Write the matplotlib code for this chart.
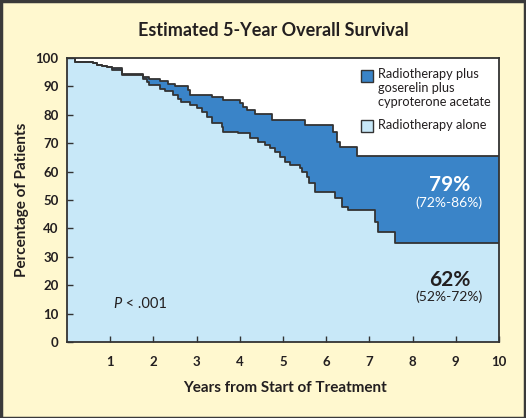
import matplotlib
matplotlib.use("Agg")
import matplotlib.pyplot as plt
from matplotlib.patches import Rectangle

# Combined therapy (radiotherapy + goserelin + cyproterone acetate) - step curve
combo_t = [0, 0.19, 0.6, 0.7, 0.8, 0.93, 1.04, 1.27, 1.76, 1.9, 2.15, 2.34, 2.5, 2.8, 2.85,
           3.36, 3.6, 4.0, 4.08, 4.17, 4.35, 4.75, 5.5, 6.16, 6.25, 6.32, 6.71, 10]
combo_s = [100, 98.6, 98.2, 97.6, 97.2, 96.8, 96.5, 94.4, 93.3, 92.6, 91.9, 90.8, 90.1, 88.7, 87.0,
           86.3, 85.2, 84.2, 82.7, 81.7, 80.3, 78.3, 76.4, 73.9, 70.4, 68.7, 65.5, 65.5]

# Radiotherapy alone - step curve
rt_t = [0, 0.19, 0.6, 0.7, 0.8, 0.93, 1.04, 1.27, 1.76, 1.85, 1.9, 2.15, 2.27, 2.45, 2.57, 2.65,
        2.85, 3.01, 3.12, 3.24, 3.36, 3.58, 3.61, 3.96, 4.24, 4.42, 4.58, 4.7, 4.81, 4.93, 5.05,
        5.16, 5.39, 5.44, 5.56, 5.6, 5.74, 6.2, 6.37, 6.5, 7.13, 7.2, 7.6, 10]
rt_s = [100, 98.6, 98.2, 97.6, 97.2, 96.8, 95.8, 93.9, 92.7, 91.5, 90.4, 89.0, 88.3, 87.0, 85.6, 84.5,
        83.5, 82.4, 81.0, 79.2, 77.0, 75.7, 73.9, 73.6, 71.8, 70.4, 69.4, 68.3, 66.9, 65.1, 63.4,
        62.3, 61.3, 59.9, 58.1, 56.0, 52.8, 50.7, 47.5, 46.5, 42.3, 38.7, 34.9, 34.9]

x_ticks = [1, 2, 3, 4, 5, 6, 7, 8, 9, 10]
y_ticks = [0, 10, 20, 30, 40, 50, 60, 70, 80, 90, 100]

title = "Estimated 5-Year Overall Survival"
xlabel = "Years from Start of Treatment"
ylabel = "Percentage of Patients"
legend_labels = ["Radiotherapy plus\ngoserelin plus\ncyproterone acetate", "Radiotherapy alone"]
combo_est, combo_ci = "79%", "(72%-86%)"
rt_est, rt_ci = "62%", "(52%-72%)"
p_label = ("P", " < .001")

BG = "#FFF8CF"
DARK = "#3A84C8"
LIGHT = "#C8E8F8"
LINE = "#333333"
TXT = "#231F20"

W, H = 526, 418
plt.rcParams['font.family'] = ['Lato', 'DejaVu Sans']
fig = plt.figure(figsize=(W / 100, H / 100), dpi=100, facecolor=BG)

ax = fig.add_axes([67 / W, 1 - 342 / H, 432 / W, 284 / H])
ax.set_facecolor("white")
ax.fill_between(combo_t, 0, combo_s, step="post", color=DARK, lw=0, zorder=0.5)
ax.fill_between(rt_t, 0, rt_s, step="post", color=LIGHT, lw=0, zorder=1)
ax.step(combo_t, combo_s, where="post", color=LINE, lw=1.3, zorder=3)
ax.step(rt_t, rt_s, where="post", color=LINE, lw=1.3, zorder=3)

ax.set_xlim(0, 10)
ax.set_ylim(0, 100)
ax.set_xticks(x_ticks)
ax.set_yticks(y_ticks)
ax.tick_params(direction="in", length=4, width=1, color=LINE, labelcolor=TXT, labelsize=9.5)
ax.tick_params(axis="x", pad=10)
ax.tick_params(axis="y", pad=6)
for lab in ax.get_xticklabels() + ax.get_yticklabels():
    lab.set_fontweight("bold")
for sp in ax.spines.values():
    sp.set_color(LINE)
    sp.set_linewidth(1.3)
    sp.set_zorder(4)

ax.text(8.85, 55.3, combo_est, color="white", fontsize=15, fontweight="bold", ha="center", va="center", zorder=5)
ax.text(8.85, 49.0, combo_ci, color="white", fontsize=10, ha="center", va="center", zorder=5)
ax.text(8.85, 21.8, rt_est, color=TXT, fontsize=15, fontweight="bold", ha="center", va="center", zorder=5)
ax.text(8.85, 15.8, rt_ci, color=TXT, fontsize=10, ha="center", va="center", zorder=5)
ax.text(1.07, 13.4, p_label[0], color=TXT, fontsize=10.5, fontstyle="italic", ha="left", va="center", zorder=5)
ax.text(1.27, 13.4, p_label[1], color=TXT, fontsize=10.5, ha="left", va="center", zorder=5)

# legend (figure pixel coords)
def fx(px):
    return px / W

def fy(py):
    return 1 - py / H

for (py, col) in [(76, DARK), (126, LIGHT)]:
    fig.patches.append(Rectangle((fx(361), fy(py + 6)), 12 / W, 12 / H, transform=fig.transFigure,
                                 facecolor=col, edgecolor=LINE, lw=1, zorder=6))
for (py, lab) in [(68, legend_labels[0]), (119, legend_labels[1])]:
    fig.text(fx(378), fy(py), lab, color=TXT, fontsize=9.2, ha="left", va="top", linespacing=1.18, zorder=6)

fig.text(fx(273), fy(30), title, color=TXT, fontsize=13, fontweight="bold", ha="center", va="center")
fig.text(fx(285), fy(388), xlabel, color=TXT, fontsize=11, fontweight="bold", ha="center", va="center")
fig.text(fx(22), fy(200), ylabel, color=TXT, fontsize=11, fontweight="bold", ha="center", va="center", rotation=90)

fig.patches.append(Rectangle((0.5 / W, 0.5 / H), 1 - 1.5 / W, 1 - 1.5 / H, transform=fig.transFigure,
                             facecolor="none", edgecolor="#3a3a3a", lw=2.5, zorder=10))

fig.savefig("out.png", dpi=100, facecolor=BG)
